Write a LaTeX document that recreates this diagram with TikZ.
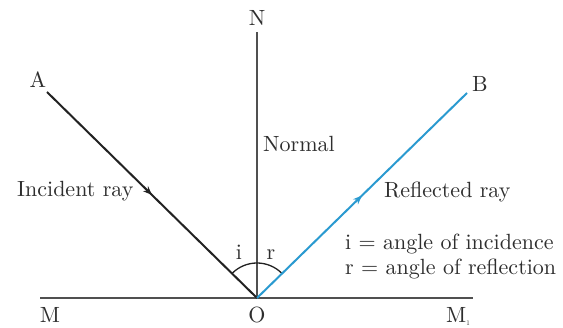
\documentclass[tikz,border=0pt]{standalone}
\usepackage{fontspec}
\setmainfont{lmroman10-regular.otf}
\usetikzlibrary{decorations.markings,arrows.meta,calc}
\definecolor{linegray}{HTML}{505050}
\definecolor{raydark}{HTML}{222222}
\definecolor{rayblue}{HTML}{2A9AD0}
\definecolor{txt}{HTML}{2E2E2E}
\tikzset{
  lbl/.style={text=txt,font=\fontsize{22}{26}\selectfont,inner sep=0pt},
  baseline/.style={draw=linegray,line width=1.8pt},
  midarrow/.style={postaction={decorate},decoration={markings,
     mark=at position 0.5 with {\arrow{Stealth[length=9pt,width=7pt]}}}},
  incray/.style={draw=raydark,line width=2pt,midarrow},
  refray/.style={draw=rayblue,line width=2pt,midarrow},
  anglearc/.style={draw=raydark,line width=1.3pt}
}
\begin{document}
\begin{tikzpicture}[x=1pt,y=-1pt]
\useasboundingbox[fill=white] (0,0) rectangle (563,328);
\coordinate (O) at (257,298);
\coordinate (N) at (257,32);
\coordinate (A) at (47,92);
\coordinate (B) at (467,93);
\coordinate (M) at (40,298);
\coordinate (M1) at (473,298);
% lines
\draw[baseline] (M) -- (M1);
\draw[baseline] (O) -- (N);
\draw[anglearc] ($(O)+(0,-35)$) arc[start angle=-90,end angle=-135,radius=35];
\draw[anglearc] ($(O)+(0,-35)$) arc[start angle=-90,end angle=-45,radius=35];
\draw[incray] (A) -- (O);
\draw[refray] (O) -- (B);
% labels
\node[lbl,anchor=base] (lN) at (257,26) {N};
\node[lbl,anchor=base] (lA) at (38,88) {A};
\node[lbl,anchor=base] (lB) at (480,92) {B};
\node[lbl,anchor=base] (lM) at (50,323) {M};
\node[lbl,anchor=base] (lO) at (257,323) {O};
\node[lbl,anchor=base west] (lM1) at (446,323) {M\raisebox{-0.3ex}{\fontsize{7}{8}\selectfont 1}};
\node[lbl,anchor=base west] (lNormal) at (263,152) {Normal};
\node[lbl,anchor=base west] (lInc) at (17,197) {Incident ray};
\node[lbl,anchor=base west] (lRef) at (384,198) {Reflected ray};
\node[lbl,anchor=base] (li) at (239,260) {i};
\node[lbl,anchor=base] (lr) at (271,260) {r};
\node[lbl,anchor=base west] (lk1) at (345,250) {i = angle of incidence};
\node[lbl,anchor=base west] (lk2) at (345,275) {r = angle of reflection};
\end{tikzpicture}
\end{document}
